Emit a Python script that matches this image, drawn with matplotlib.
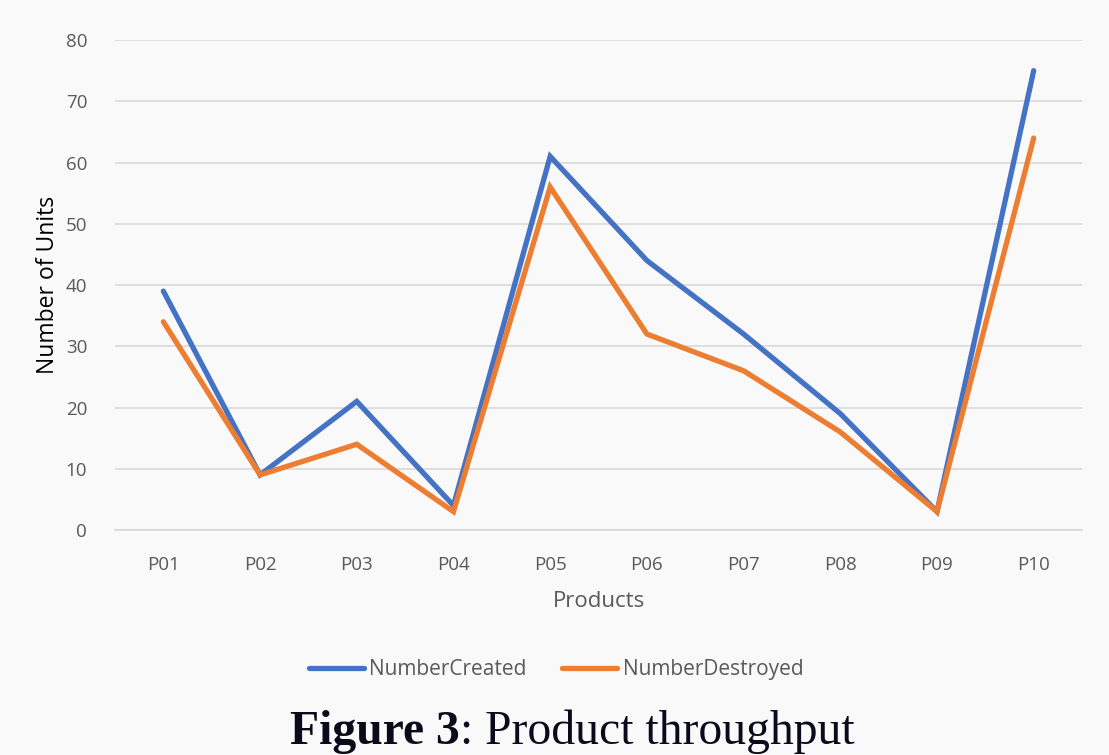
import matplotlib
matplotlib.use("Agg")
import matplotlib.pyplot as plt

products = ["P01", "P02", "P03", "P04", "P05", "P06", "P07", "P08", "P09", "P10"]
number_created = [39, 9, 21, 4, 61, 44, 32, 19, 3, 75]
number_destroyed = [34, 9, 14, 3, 56, 32, 26, 16, 3, 64]
y_ticks = [0, 10, 20, 30, 40, 50, 60, 70, 80]

bg = "#f9f9f9"
fig = plt.figure(figsize=(11.09, 7.55), dpi=100, facecolor=bg)
ax = fig.add_axes([0.1037, 0.298, 0.872, 0.649], facecolor=bg)

font = "Open Sans"
x = list(range(len(products)))
ax.plot(x, number_created, color="#4472c4", lw=3.8, solid_joinstyle="miter", solid_capstyle="round",
        label="NumberCreated", zorder=3)
ax.plot(x, number_destroyed, color="#ed7d31", lw=3.8, solid_joinstyle="miter", solid_capstyle="round",
        label="NumberDestroyed", zorder=3)

ax.set_xlim(-0.5, len(products) - 0.5)
ax.set_ylim(0, 80)
ax.set_yticks(y_ticks)
ax.set_xticks(x)
ax.set_xticklabels(products)
ax.grid(axis="y", color="#d9d9d9", lw=1.2)
ax.set_axisbelow(True)
for s in ax.spines.values():
    s.set_visible(False)
ax.spines["bottom"].set_visible(True)
ax.spines["bottom"].set_color("#d9d9d9")
ax.spines["bottom"].set_linewidth(1.2)
ax.tick_params(length=0, labelsize=13.5, colors="#595959")
ax.tick_params(axis="y", pad=20)
ax.tick_params(axis="x", pad=19)
for lab in ax.get_xticklabels() + ax.get_yticklabels():
    lab.set_fontfamily(font)
ax.set_xlabel("Products", fontsize=16, color="#595959", family=font, labelpad=12)
ax.set_ylabel("Number of Units", fontsize=16.5, color="black", family=font, labelpad=4)

leg = fig.legend(loc="center", bbox_to_anchor=(0.5014, 0.1126), ncol=2, frameon=False,
                 prop={"family": font, "size": 15}, handlelength=2.65, handletextpad=0.25,
                 columnspacing=1.7)
for t in leg.get_texts():
    t.set_color("#595959")

t1 = fig.text(0.2615, 0.015, "Figure 3", fontsize=34.3, fontweight="bold", family="Liberation Serif", color="#0a0a1a")
fig.canvas.draw()
bb = t1.get_window_extent()
x1 = bb.x1 / fig.bbox.width
fig.text(x1, 0.015, ": Product throughput", fontsize=34.3, family="Liberation Serif", color="#0a0a1a")

fig.savefig("out.png", dpi=100, facecolor=bg)
